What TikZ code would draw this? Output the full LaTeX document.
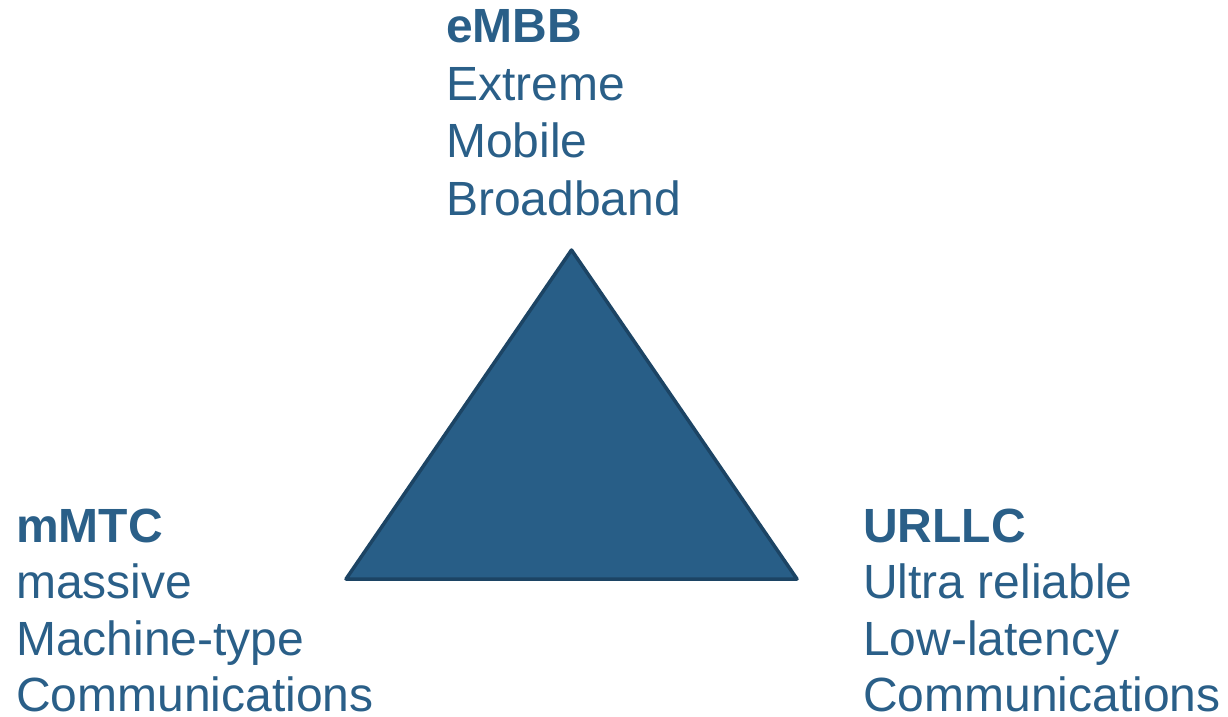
\documentclass[tikz,border=0pt]{standalone}
\usepackage{fontspec}
\setmainfont{Liberation Sans}
\definecolor{textblue}{HTML}{2A5F88}
\definecolor{trifill}{HTML}{285E87}
\definecolor{triedge}{HTML}{1C4464}
\begin{document}
\begin{tikzpicture}[x=1pt,y=-1pt,
  label/.style={anchor=base west,inner sep=0pt,text=textblue,font=\fontsize{48}{56}\selectfont},
  head/.style={label,font=\fontsize{48}{56}\selectfont\bfseries}]
\useasboundingbox (0,0) rectangle (1228,716);
% the triangle
\coordinate (top) at (571.5,250);
\coordinate (bl) at (346,579);
\coordinate (br) at (797,579);
\draw[fill=trifill,draw=triedge,line width=3.5pt,line join=round] (top) -- (bl) -- (br) -- cycle;
% eMBB
\node[head] (embb) at (446,42) {eMBB};
\node[label] (embb1) at (446,100) {Extreme};
\node[label] (embb2) at (446,157.5) {Mobile};
\node[label] (embb3) at (446,215) {Broadband};
% mMTC
\node[head] (mmtc) at (16,542) {mMTC};
\node[label] (mmtc1) at (16,598.5) {massive};
\node[label] (mmtc2) at (16,655.5) {Machine-type};
\node[label] (mmtc3) at (16,711.5) {Communications};
% URLLC
\node[head] (urllc) at (863,542) {URLLC};
\node[label] (urllc1) at (863,598.5) {Ultra reliable};
\node[label] (urllc2) at (863,655.5) {Low-latency};
\node[label] (urllc3) at (863,711.5) {Communications};
\end{tikzpicture}
\end{document}
